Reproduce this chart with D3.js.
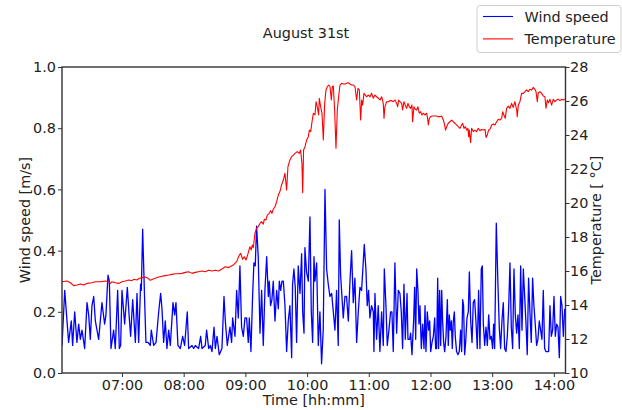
<!DOCTYPE html>
<html>
<head>
<meta charset="utf-8">
<script src="https://cdn.jsdelivr.net/npm/d3@7/dist/d3.min.js"></script>
<style>
  html, body { margin: 0; padding: 0; background: #fff; }
  svg { display: block; font-family: "DejaVu Sans", sans-serif; }
</style>
</head>
<body>
<svg id="chart" width="622" height="410"></svg>
<script>
// ---- data -------------------------------------------------------------
// Readings as [minutes after 06:00, value]
const windSpeed = [
  [1.7,0.09],[4.3,0.27],[8.1,0.10],[10.7,0.17],[12.0,0.09],[14.0,0.20],[16.2,0.10],[17.9,0.16],[19.5,0.11],[21.1,0.14],
  [23.7,0.08],[26.0,0.23],[27.6,0.19],[29.2,0.11],[30.8,0.22],[32.5,0.25],[34.1,0.17],[37.3,0.11],[40.5,0.23],[43.1,0.16],
  [44.4,0.19],[46.4,0.32],[47.7,0.30],[49.3,0.08],[51.9,0.14],[53.5,0.08],[55.8,0.27],[57.4,0.08],[58.7,0.09],[60.0,0.27],
  [62.6,0.16],[65.2,0.28],[67.1,0.18],[68.4,0.12],[70.4,0.24],[73.0,0.10],[74.6,0.26],[76.2,0.10],[78.1,0.29],[78.8,0.27],
  [80.1,0.47],[82.0,0.24],[83.3,0.10],[85.3,0.10],[87.5,0.09],[88.5,0.14],[90.8,0.09],[93.1,0.10],[95.7,0.20],[97.6,0.26],
  [98.9,0.21],[100.5,0.10],[102.1,0.17],[103.7,0.08],[105.4,0.14],[107.0,0.09],[109.6,0.23],[111.2,0.19],[112.5,0.23],[114.4,0.09],
  [116.7,0.08],[119.0,0.12],[120.9,0.09],[123.5,0.20],[124.8,0.08],[128.1,0.09],[129.7,0.08],[131.3,0.09],[134.5,0.08],[136.5,0.12],
  [137.8,0.08],[141.0,0.09],[142.3,0.14],[144.3,0.08],[145.9,0.09],[147.5,0.07],[149.5,0.15],[150.8,0.08],[152.4,0.12],[154.6,0.06],
  [157.2,0.08],[159.2,0.25],[160.5,0.17],[162.4,0.09],[165.0,0.15],
  [166.6,0.10],[167.6,0.18],[169.9,0.12],[171.5,0.27],[173.1,0.18],[174.7,0.35],[176.3,0.15],[178.0,0.12],[179.6,0.18],[181.2,0.18],
  [182.8,0.10],[183.8,0.18],[185.4,0.07],[187.0,0.25],[188.3,0.36],[189.6,0.35],[190.9,0.48],[192.5,0.38],[194.2,0.13],[195.8,0.27],
  [197.4,0.09],[199.0,0.27],[200.7,0.38],[202.3,0.25],[203.2,0.30],[204.5,0.22],[205.8,0.24],[207.1,0.30],[208.8,0.17],[210.4,0.27],
  [212.0,0.21],[213.0,0.30],[214.3,0.27],[215.6,0.30],[216.9,0.30],[218.5,0.22],[220.1,0.07],[221.7,0.17],[223.3,0.22],[225.0,0.05],
  [225.9,0.29],[227.2,0.34],[228.5,0.28],[229.8,0.10],[231.4,0.35],[233.1,0.26],[234.7,0.39],[235.7,0.20],[237.0,0.13],[237.9,0.41],
  [239.5,0.33],[241.2,0.30],[242.8,0.51],[244.1,0.20],[245.4,0.10],[246.7,0.38],[247.6,0.30],[249.3,0.36],[250.9,0.09],[252.5,0.20],
  [254.1,0.03],[255.7,0.14],[257.4,0.60],[259.0,0.34],[260.6,0.29],[262.2,0.25],[263.9,0.26],[265.5,0.20],[267.1,0.14],[268.7,0.27],
  [270.3,0.09],[271.3,0.50],[272.6,0.32],[273.9,0.25],[275.2,0.18],[276.8,0.25],[278.4,0.25],[280.1,0.17],[281.7,0.30],[283.3,0.40],
  [284.9,0.23],[286.5,0.31],[288.2,0.10],[289.8,0.20],[291.4,0.28],[293.0,0.27],[294.6,0.36],[295.6,0.42],[297.2,0.34],[298.5,0.22],
  [299.8,0.27],[301.1,0.18],[302.7,0.22],[304.4,0.20],[305.0,0.07],[306.0,0.26],[307.6,0.11],[309.2,0.22],[310.8,0.07],[312.5,0.20],
  [314.1,0.09],[315.1,0.34],[316.7,0.22],[318.0,0.09],[319.6,0.14],[321.2,0.20],[322.5,0.20],[323.8,0.07],[325.4,0.36],[327.1,0.13],
  [328.7,0.27],[330.3,0.26],
  [331.6,0.20],[332.9,0.08],[334.2,0.29],[335.5,0.11],[337.2,0.26],[338.1,0.11],[339.7,0.11],[340.7,0.13],[342.0,0.06],[343.6,0.17],
  [344.6,0.28],[345.6,0.11],[346.6,0.34],[347.8,0.27],[348.8,0.16],[349.8,0.22],[351.1,0.08],[352.4,0.16],[353.7,0.08],[354.7,0.22],
  [355.6,0.07],[356.9,0.20],[358.2,0.14],[359.2,0.17],[360.2,0.07],[361.5,0.10],[362.8,0.12],[364.1,0.18],[365.0,0.08],[366.0,0.08],
  [367.0,0.31],[367.9,0.08],[368.9,0.27],[369.9,0.09],[370.9,0.27],[371.8,0.17],[372.8,0.10],[373.8,0.07],[375.1,0.12],[376.4,0.24],
  [377.3,0.09],[378.3,0.19],[379.3,0.14],[380.3,0.17],[381.2,0.08],[382.2,0.17],[383.2,0.20],[384.1,0.12],[385.4,0.07],[386.7,0.06],
  [388.0,0.07],[389.3,0.14],[390.3,0.07],[391.3,0.24],[392.2,0.22],[393.2,0.06],[394.2,0.10],[395.5,0.18],[396.8,0.20],[397.8,0.33],
  [399.1,0.17],[400.4,0.10],[401.6,0.23],[402.9,0.24],[404.2,0.17],[405.5,0.08],[406.8,0.27],[408.1,0.08],[409.4,0.34],[410.4,0.35],
  [411.4,0.16],[412.7,0.09],[414.0,0.15],[415.3,0.09],[416.6,0.19],[417.9,0.11],[419.1,0.12],[420.4,0.08],[421.4,0.16],[422.4,0.08],
  [424.0,0.49],[425.6,0.29],[426.9,0.15],[428.2,0.08],[429.5,0.17],[430.8,0.23],[432.1,0.08],[433.4,0.07],[434.7,0.12],[436.0,0.21],
  [437.3,0.36],[438.6,0.15],[439.9,0.08],[441.2,0.34],[442.5,0.19],[443.8,0.13],[445.1,0.19],[446.4,0.08],[447.7,0.35],[449.0,0.14],
  [450.3,0.34],[451.6,0.25],[452.9,0.16],[454.1,0.06],[455.4,0.31],[456.7,0.20],[458.0,0.10],[459.3,0.31],[460.6,0.22],[461.9,0.16],
  [463.2,0.09],[464.5,0.11],[465.8,0.17],[467.1,0.14],[468.4,0.11],[469.7,0.27],[471.0,0.08],[472.3,0.07],[473.6,0.07],[474.9,0.07],
  [476.2,0.22],[477.5,0.12],[478.8,0.14],[480.1,0.25],[481.4,0.12],[482.7,0.16],[484.0,0.15],[485.3,0.05],[486.6,0.25],[487.9,0.22],
  [489.2,0.12],[490.5,0.21]
];

const temperature = [
  [1.7,15.37],[6.5,15.41],[9.8,15.31],[13.0,15.14],[16.2,15.18],[19.5,15.24],[22.7,15.18],[26.0,15.27],[30.8,15.31],[34.1,15.37],
  [38.9,15.37],[43.8,15.41],[47.0,15.37],[48.7,15.27],[50.3,15.37],[53.5,15.31],[56.8,15.27],[60.0,15.37],[63.2,15.41],[66.5,15.47],
  [69.7,15.43],[71.3,15.51],[74.6,15.47],[76.9,15.57],[79.4,15.61],[82.7,15.65],[85.3,15.57],[87.5,15.45],[89.8,15.51],[92.4,15.57],
  [95.7,15.65],[98.9,15.69],[102.1,15.73],[105.4,15.76],[108.6,15.80],[111.9,15.84],[115.1,15.84],[118.3,15.86],[121.6,15.92],[124.8,15.96],
  [128.1,15.86],[131.3,15.92],[134.5,15.96],[137.8,16.00],[141.0,15.96],[144.3,16.04],[147.5,16.00],[150.8,16.04],[154.0,16.00],[157.2,16.12],
  [160.5,16.25],[163.7,16.20],[168.2,16.35],[171.5,16.55],[174.1,16.94],[175.4,17.04],[177.3,16.69],[178.9,16.84],[180.6,16.65],[181.9,16.88],
  [183.1,17.14],[184.4,17.43],[185.7,17.24],[186.7,17.53],[187.7,17.37],[189.3,18.22],[190.9,18.51],[192.5,18.61],[194.2,18.80],[195.8,18.90],
  [197.4,18.76],[198.4,19.04],[200.0,19.00],[201.3,19.29],[203.2,19.39],[204.5,19.55],[205.8,19.39],[207.1,19.63],[208.8,19.78],[210.4,20.08],
  [212.0,20.47],[213.6,20.67],[215.2,21.06],[216.9,21.35],[218.5,21.75],[220.1,20.76],[221.4,22.14],[223.3,22.53],[225.0,22.73],[226.6,22.82],
  [228.2,22.92],[230.5,23.02],[232.4,22.92],[233.7,23.12],[235.0,22.33],[235.7,20.61],[236.6,23.12],
  [238.0,23.31],[239.6,23.71],[241.2,23.90],[242.2,24.29],[243.5,24.20],[244.8,24.78],[246.1,25.27],[247.7,25.18],[248.7,25.96],[249.9,25.66],
  [251.2,25.18],[251.9,26.16],[253.2,25.66],[254.5,25.27],[255.8,23.71],[257.1,25.86],[258.4,26.65],[259.7,26.84],[261.0,26.94],[262.3,26.84],
  [263.6,26.06],[264.5,26.84],[265.5,26.88],[266.8,25.47],[268.1,23.22],[269.4,25.47],[270.7,26.25],[272.0,26.94],[273.6,27.04],[275.2,27.00],
  [276.9,27.00],[278.5,27.04],[280.1,27.08],[281.7,27.00],[283.3,26.94],[285.0,26.94],[286.6,26.84],[288.2,26.06],[289.5,26.75],[290.8,26.65],
  [292.1,24.88],[293.1,26.06],[294.0,25.76],[295.3,26.45],[296.6,26.35],[297.9,26.25],[299.5,26.35],[301.2,26.25],[302.8,26.45],[304.4,26.16],
  [306.0,26.35],[307.6,26.25],[309.3,26.16],[310.9,26.06],[312.5,26.25],[314.1,25.86],[314.8,24.98],[315.7,25.66],[317.4,25.96],[319.0,25.96],
  [320.6,26.02],[322.2,26.02],[323.8,25.96],[325.5,26.06],[327.1,25.86],[328.1,25.66],[329.0,26.06],[330.3,25.96],[332.0,25.86],[332.9,25.47],
  [334.2,25.96],[335.5,25.76],[336.8,25.57],[338.1,25.86],[339.4,25.66],[340.7,25.57],[342.0,25.76],[342.6,24.78],[343.9,25.66],[345.2,25.51],
  [346.5,25.47],[347.8,25.66],[349.1,25.28],[350.4,25.37],[351.7,25.18],[353.0,25.28],[354.6,25.18],[356.3,25.28],[357.2,24.98],[357.9,24.59],
  [358.9,24.98],[360.1,25.08],[361.4,25.12],[362.7,25.12],[364.4,25.12],[366.0,25.12],[367.6,25.08],[369.2,25.08],[370.8,25.12],[372.5,24.88],
  [373.4,24.69],[374.7,24.29],[375.7,24.49],[377.3,24.69],[378.9,24.78],[380.6,24.88],[382.2,24.78],[383.8,24.69],[385.4,24.59],[387.0,24.49],
  [388.7,24.39],[390.3,24.59],[391.3,24.69],[392.6,24.39],[393.9,24.49],[395.2,24.29],[396.4,24.39],[397.1,23.90],[397.7,24.29],[399.0,23.55],
  [400.0,24.39],[401.6,24.20],[403.3,24.29],[404.9,24.20],[406.5,24.39],[408.1,24.25],[409.7,24.33],[411.4,24.29],[413.0,24.33],[414.0,23.86],
  [415.2,24.00],[416.5,24.29],[417.8,24.33],[419.5,24.59],[421.1,24.65],[422.7,24.59],[424.3,24.78],[425.9,24.92],[427.6,24.88],[429.2,24.98],
  [430.2,25.37],[431.4,25.18],[432.7,24.98],[434.0,25.57],[435.7,25.70],[437.3,25.57],[438.9,25.86],[440.5,25.62],[442.1,25.96],[443.8,25.47],
  [444.4,25.08],[445.4,25.76],[447.0,25.96],[448.6,26.45],[450.3,26.45],[451.9,26.55],[453.5,26.65],[455.1,26.55],[456.7,26.69],[458.4,26.65],
  [460.0,26.80],[461.6,26.69],[462.6,26.55],[463.9,25.96],[464.8,26.49],[466.5,26.55],[468.1,26.45],[469.7,26.29],[471.3,26.25],[472.3,25.57],
  [473.6,26.06],[474.6,25.90],[476.2,26.10],[477.8,25.76],[479.4,26.10],[481.0,25.96],[482.7,26.06],[484.3,26.10],[485.9,26.02],[487.5,26.10],
  [489.1,26.06],[490.8,26.12]
];

const timeRange = ["06:01:40", "14:11:18"];
const timeTicks = ["07:00", "08:00", "09:00", "10:00", "11:00", "12:00", "13:00", "14:00"];
const speedTicks = [0.0, 0.2, 0.4, 0.6, 0.8, 1.0];
const tempTicks = [10, 12, 14, 16, 18, 20, 22, 24, 26, 28];
const speedRange = [0, 1];
const tempRange = [10, 28];

// ---- layout -----------------------------------------------------------
const W = 622, H = 410;
const m = { top: 67, right: 56.5, bottom: 37, left: 62 };
const iw = W - m.left - m.right, ih = H - m.top - m.bottom;
const FONT = 14.4;
const TEXT = "#222";

const day = [2000, 7, 31];
const clock = s => { const p = s.split(":").map(Number); return new Date(day[0], day[1], day[2], p[0], p[1], p[2] || 0); };
const start = new Date(day[0], day[1], day[2], 6, 0, 0);
const atMinute = mm => new Date(start.getTime() + mm * 60000);

const x = d3.scaleTime().domain(timeRange.map(clock)).range([0, iw]);
const yW = d3.scaleLinear().domain(speedRange).range([ih, 0]);
const yT = d3.scaleLinear().domain(tempRange).range([ih, 0]);

const svg = d3.select("#chart");
svg.append("rect").attr("width", W).attr("height", H).attr("fill", "#fff");

svg.append("defs").append("clipPath").attr("id", "plot-clip")
  .append("rect").attr("width", iw).attr("height", ih);

const g = svg.append("g").attr("transform", `translate(${m.left},${m.top})`);

// ---- series -------------------------------------------------------------
const plot = g.append("g").attr("clip-path", "url(#plot-clip)");

plot.append("path")
  .datum(windSpeed)
  .attr("fill", "none")
  .attr("stroke", "#0000ff")
  .attr("stroke-width", 1.3)
  .attr("stroke-linejoin", "round")
  .attr("d", d3.line().x(d => x(atMinute(d[0]))).y(d => yW(d[1])));

plot.append("path")
  .datum(temperature)
  .attr("fill", "none")
  .attr("stroke", "#ff0000")
  .attr("stroke-width", 1.1)
  .attr("stroke-linejoin", "round")
  .attr("d", d3.line().x(d => x(atMinute(d[0]))).y(d => yT(d[1])));

// ---- axes ---------------------------------------------------------------
function styleAxis(sel) {
  sel.select(".domain").remove();
  sel.selectAll(".tick line").attr("stroke", "#333").attr("stroke-width", 1);
  sel.selectAll(".tick text").attr("fill", TEXT).style("font-size", FONT + "px")
    .style("font-family", "'DejaVu Sans', sans-serif");
}

g.append("g").attr("transform", `translate(0,${ih})`)
  .call(d3.axisBottom(x).tickValues(timeTicks.map(clock)).tickFormat(d3.timeFormat("%H:%M"))
    .tickSize(4).tickPadding(3))
  .call(styleAxis);

g.append("g")
  .call(d3.axisLeft(yW).tickValues(speedTicks).tickFormat(d3.format(".1f")).tickSize(4).tickPadding(2))
  .call(styleAxis);

g.append("g").attr("transform", `translate(${iw},0)`)
  .call(d3.axisRight(yT).tickValues(tempTicks).tickFormat(d3.format("d")).tickSize(4).tickPadding(0.5))
  .call(styleAxis);

// frame
g.append("rect").attr("width", iw).attr("height", ih)
  .attr("fill", "none").attr("stroke", "#333").attr("stroke-width", 1.4);

// ---- labels -------------------------------------------------------------
const label = (sel) => sel.attr("fill", TEXT).style("font-size", FONT + "px");

svg.append("text").call(label)
  .attr("x", 306).attr("y", 38).attr("text-anchor", "middle").text("August 31st");

svg.append("text").call(label)
  .attr("x", m.left + iw / 2).attr("y", 405).attr("text-anchor", "middle").text("Time [hh:mm]");

svg.append("text").call(label)
  .attr("transform", `translate(29.5,${m.top + ih / 2}) rotate(-90)`)
  .attr("text-anchor", "middle").text("Wind speed [m/s]");

svg.append("text").call(label)
  .attr("transform", `translate(600.5,${m.top + ih / 2}) rotate(-90)`)
  .attr("text-anchor", "middle").text("Temperature [ °C]");

// ---- legend -------------------------------------------------------------
const legendItems = [
  { name: "Wind speed", color: "#0000ff" },
  { name: "Temperature", color: "#ff0000" }
];
const lg = svg.append("g").attr("transform", "translate(477,5.5)");
lg.append("rect").attr("width", 144).attr("height", 47).attr("rx", 3)
  .attr("fill", "#fff").attr("fill-opacity", 0.8)
  .attr("stroke", "#d0d0d0").attr("stroke-width", 1);
legendItems.forEach((d, i) => {
  const yy = 11 + i * 22.4;
  lg.append("line").attr("x1", 6).attr("x2", 36).attr("y1", yy).attr("y2", yy)
    .attr("stroke", d.color).attr("stroke-width", 1.1);
  lg.append("text").call(label).attr("x", 47.5).attr("y", yy).attr("dy", "0.36em").text(d.name);
});
</script>
</body>
</html>
